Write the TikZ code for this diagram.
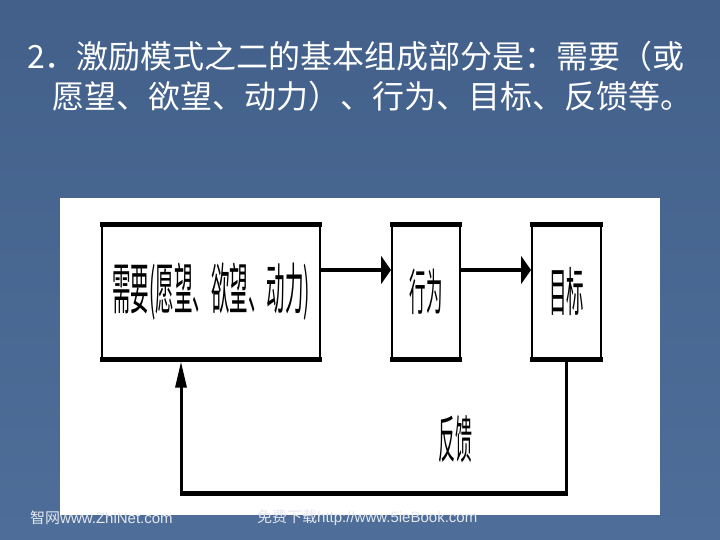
\documentclass[tikz,border=0pt]{standalone}
\usepackage{fontspec}
\newfontfamily\cjk{Noto Sans CJK SC}
\newfontfamily\lat{Liberation Sans}
\usetikzlibrary{arrows.meta}
\definecolor{bgtop}{HTML}{42608A}
\definecolor{bgbot}{HTML}{4E6E99}
\definecolor{foot}{HTML}{E4E8F0}
\tikzset{
  blk/.style={draw=black, line width=2pt, fill=white, inner sep=0pt},
  thickedge/.style={line width=4.5pt},
  arr/.style={line width=4pt, -{Triangle[length=10pt,width=28pt]}},
  fb/.style={line width=3pt, line join=miter},
  fbtip/.style={line width=3pt, -{Triangle[length=26pt,width=11pt]}},
  ttl/.style={anchor=west, inner sep=0pt, text=white, font=\cjk\fontsize{32}{34}\selectfont},
  ft/.style={anchor=west, inner sep=0pt, text=foot, font=\fontsize{15}{16}\selectfont},
}
\newcommand{\tall}[2]{\scalebox{1}[3.0]{\cjk\fontsize{#1}{#1}\selectfont #2}}
\begin{document}
\begin{tikzpicture}[x=1pt,y=-1pt]
\useasboundingbox (0,0) rectangle (720,540);
\shade[top color=bgtop,bottom color=bgbot] (0,0) rectangle (720,540);
% title
\node[ttl] (t1) at (27,56) {2．激励模式之二的基本组成部分是：需要（或};
\node[ttl] (t2) at (52,96) {愿望、欲望、动力）、行为、目标、反馈等。};
% white panel
\fill[white] (60,198) rectangle (660,515);
% boxes
\node[blk, minimum width=218pt, minimum height=133pt] (need) at (211,292) {\tall{18.5}{需要(愿望、欲望、动力)}};
\node[blk, minimum width=68pt, minimum height=133pt] (act) at (426,292) {\tall{16.5}{行为}};
\node[blk, minimum width=69pt, minimum height=133pt] (goal) at (566.5,292) {\tall{17.5}{目标}};
\foreach \n in {need,act,goal}{
  \draw[thickedge] ([xshift=-1pt]\n.north west) -- ([xshift=1pt]\n.north east);
  \draw[thickedge] ([xshift=-1pt]\n.south west) -- ([xshift=1pt]\n.south east);
}
% forward arrows
\draw[arr] ([yshift=22pt]need.east) -- ([yshift=22pt]act.west);
\draw[arr] ([yshift=22pt]act.east) -- ([yshift=22pt]goal.west);
% feedback loop
\coordinate (f1) at (566.5,493);
\coordinate (f2) at (181,493);
\draw[fb] (goal.south) -- (f1) -- (f2);
\draw[line width=5pt] ([xshift=1.5pt]f1) -- ([xshift=-1.5pt]f2);
\draw[fbtip] (f2) -- ([yshift=-2pt]need.south -| f2);
\node[inner sep=0pt] (fbl) at (455,439) {\tall{17}{反馈}};
% footer
\node[ft] (w1) at (30,518) {{\cjk 智网}{\lat www.ZhiNet.com}};
\node[ft] (w2) at (257,518) {{\cjk 免费下载}{\lat http://www.5ieBook.com}};
\end{tikzpicture}
\end{document}
